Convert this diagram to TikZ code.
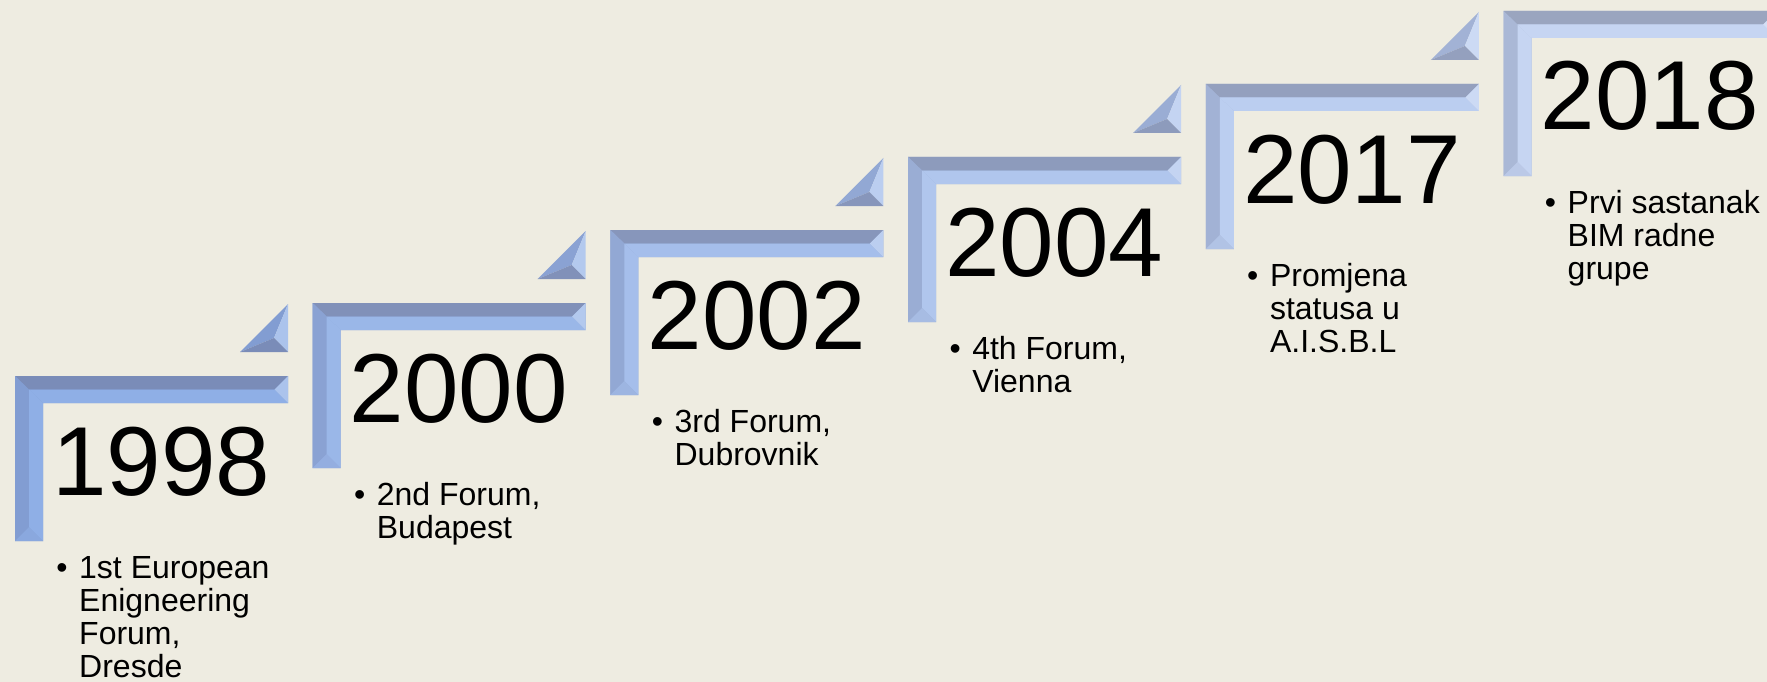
\documentclass[tikz,border=0pt]{standalone}
\usepackage{fontspec}
\setmainfont{Liberation Sans}
\definecolor{bgc}{HTML}{EEECE1}
\definecolor{ltA}{HTML}{8FAFE6}
\definecolor{ltB}{HTML}{C6D5F2}
\definecolor{dkA}{HTML}{7A8CB8}
\definecolor{dkB}{HTML}{9AA5BF}
\definecolor{mdA}{HTML}{829DD2}
\definecolor{mdB}{HTML}{AAB8D6}
\tikzset{
  yearlbl/.style={anchor=base west, inner sep=0pt, font=\fontsize{98}{100}\selectfont},
  bulletlbl/.style={anchor=base, inner sep=0pt, font=\fontsize{32}{33.3}\selectfont},
  desclbl/.style={anchor=base west, inner sep=0pt},
}
\begin{document}
\begin{tikzpicture}[x=1pt,y=-1pt]
\fill[bgc] (0,0) rectangle (1767,682);
\useasboundingbox (0,0) rectangle (1767,682);
\begin{scope}
\clip (0,0) rectangle (1767,682);
\foreach \i/\yr/\txt in {
  0/1998/{1st European\\Enigneering\\Forum,\\Dresde},
  1/2000/{2nd Forum,\\Budapest},
  2/2002/{3rd Forum,\\Dubrovnik},
  3/2004/{4th Forum,\\Vienna},
  4/2017/{Promjena\\statusa u\\A.I.S.B.L},
  5/2018/{Prvi sastanak\\BIM radne\\grupe}}{
  \pgfmathsetmacro\X{15+297.7*\i}
  \pgfmathsetmacro\Y{376-73*\i}
  \pgfmathtruncatemacro\p{20*\i}
  \colorlet{lt}{ltB!\p!ltA}
  \colorlet{dk}{dkB!\p!dkA}
  \colorlet{md}{mdB!\p!mdA}
  \colorlet{hi}{lt!75!white}
  \begin{scope}[shift={(\X,\Y)}]
    % L-shaped bevelled frame
    \fill[md] (0,0) -- (273,0) -- (273,27) -- (28,27) -- (28,165) -- (0,165) -- cycle;
    \fill[dk] (0,0) -- (273,0) -- (259.5,13.5) -- (14,13.5) -- cycle;
    \fill[lt] (28,27) -- (273,27) -- (259.5,13.5) -- (14,13.5) -- cycle;
    \fill[md] (0,0) -- (14,13.5) -- (14,151) -- (0,165) -- cycle;
    \fill[lt] (28,27) -- (14,13.5) -- (14,151) -- (28,165) -- cycle;
    \fill[hi] (273,0) -- (273,27) -- (259.5,13.5) -- cycle;
    \fill[lt!60!md] (0,165) -- (28,165) -- (14,151) -- cycle;
    % bevelled triangle
    \fill[md] (225,-24) -- (273,-72) -- (259,-38) -- cycle;
    \fill[hi] (273,-72) -- (273,-24) -- (259,-38) -- cycle;
    \fill[dk] (225,-24) -- (273,-24) -- (259,-38) -- cycle;
    % texts
    \node[yearlbl] (y\i) at (37,119) {\yr};
    \node[bulletlbl] (b\i) at (47,202) {\textbullet};
    \node[desclbl] (t\i) at (64,202) {\parbox[t]{300pt}{\raggedright\fontsize{32}{33.3}\selectfont \txt}};
  \end{scope}
}
\end{scope}
\end{tikzpicture}
\end{document}
